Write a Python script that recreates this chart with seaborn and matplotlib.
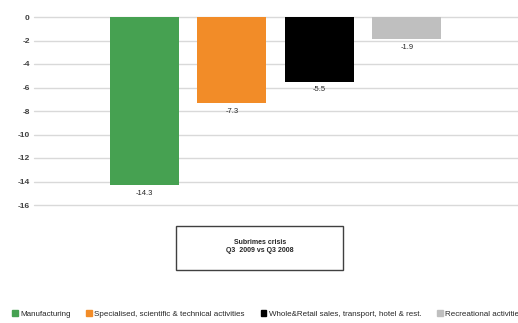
import matplotlib
matplotlib.use("Agg")
import matplotlib.pyplot as plt
import seaborn as sns
import pandas as pd
from matplotlib.patches import Rectangle, Patch

categories = ["Manufacturing",
              "Specialised, scientific & technical activities",
              "Whole&Retail sales, transport, hotel & rest.",
              "Recreational activities"]
values = [-14.3, -7.3, -5.5, -1.9]
labels = ["-14.3", "-7.3", "-5.5", "-1.9"]
colors = ["#46a151", "#f28c28", "#000000", "#bfbfbf"]
yticks = list(range(0, -17, -2))

df = pd.DataFrame({"cat": categories, "val": values})

sns.set_theme(style="white")
plt.rcParams['font.family'] = ['Liberation Sans', 'DejaVu Sans']

W, H = 518, 323
fig = plt.figure(figsize=(W/100, H/100), dpi=100)
ax = fig.add_axes([34/W, 1-205/H, (518-34)/W, 188/H])

sns.barplot(data=df, x="cat", y="val", hue="cat", palette=colors,
            width=0.79, ax=ax, legend=False, saturation=1, linewidth=0)

ax.set_ylim(-16, 0)
ax.set_xlim(-1.26, 4.27)
ax.set_yticks(yticks)
ax.set_yticklabels([str(t) for t in yticks], fontsize=6, fontweight="bold", color="#404040")
ax.set_xticks([])
ax.set_xlabel("")
ax.set_ylabel("")
ax.grid(axis="y", color="#d9d9d9", linewidth=1)
for gl in ax.get_ygridlines():
    gl.set_clip_on(False)
ax.set_axisbelow(True)
for s in ax.spines.values():
    s.set_visible(False)
ax.tick_params(axis="y", length=0, pad=3)

for i, (v, t) in enumerate(zip(values, labels)):
    ax.annotate(t, (i, v), xytext=(0, -6), textcoords="offset points",
                ha="center", va="center", fontsize=5.5, color="#262626")

# box
fig.patches.append(Rectangle((176/W, 1-270/H), (343-176)/W, 44/H,
                             transform=fig.transFigure, fill=False,
                             edgecolor="#404040", linewidth=1))
fig.text(260/W, 1-243/H, "Subrimes crisis", ha="center", va="center",
         fontsize=5, fontweight="bold")
fig.text(260/W, 1-251/H, "Q3  2009 vs Q3 2008", ha="center", va="center",
         fontsize=5, fontweight="bold")

handles = [Patch(facecolor=c, edgecolor=c) for c in colors]
fig.legend(handles, categories, loc="center left", bbox_to_anchor=(12/W, 1-314/H),
           ncol=4, frameon=False, fontsize=5.72, handlelength=0.7, handleheight=0.7,
           handletextpad=0.3, columnspacing=2.0, borderaxespad=0, borderpad=0)

fig.savefig("out.png", dpi=100)
